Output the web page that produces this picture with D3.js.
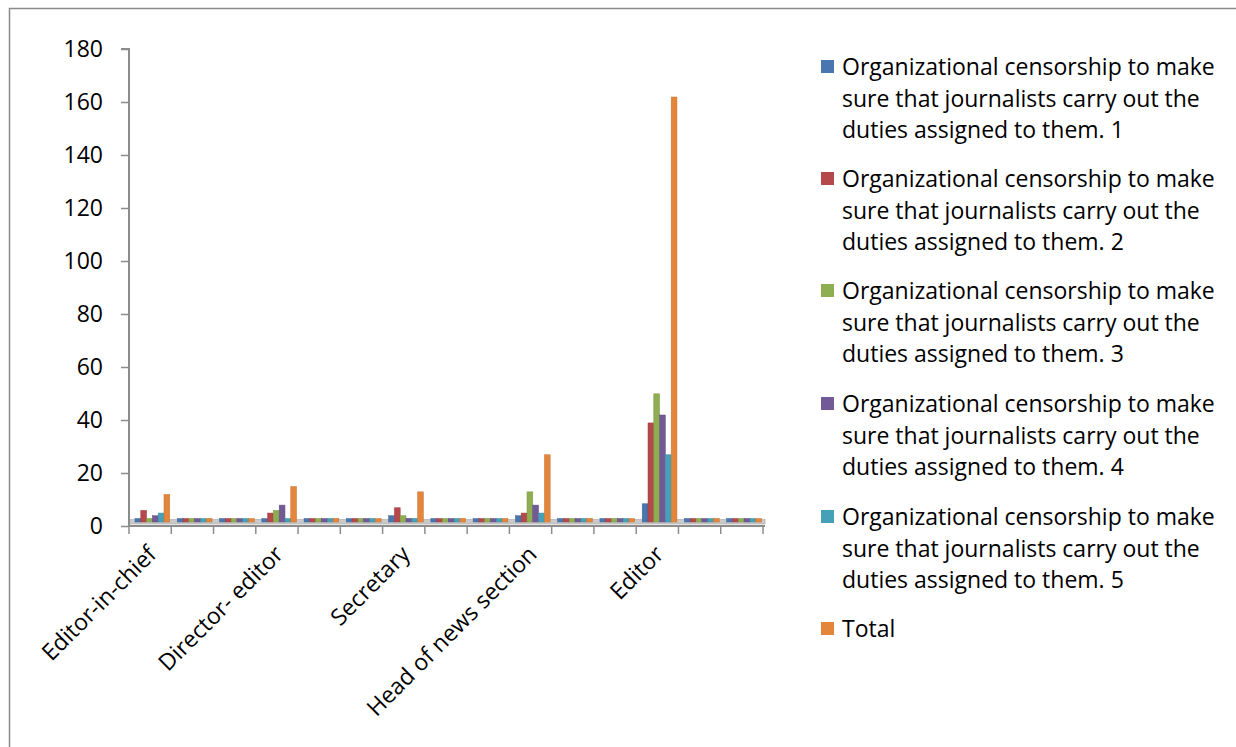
<!DOCTYPE html>
<html>
<head>
<meta charset="utf-8">
<script src="https://cdn.jsdelivr.net/npm/d3@7"></script>
<style>
  html, body { margin: 0; padding: 0; background: #fff; }
  svg { display: block; }
  text { font-family: "Open Sans", "Liberation Sans", sans-serif; fill: #000; }
</style>
</head>
<body>
<svg id="chart" width="1236" height="747"></svg>
<script>
// ---- data ----
const categories = ["Editor-in-chief", "", "", "Director- editor", "", "", "Secretary", "", "", "Head of news section", "", "", "Editor", "", ""];
const seriesNames = [
  "Organizational censorship to make sure that journalists carry out the duties assigned to them. 1",
  "Organizational censorship to make sure that journalists carry out the duties assigned to them. 2",
  "Organizational censorship to make sure that journalists carry out the duties assigned to them. 3",
  "Organizational censorship to make sure that journalists carry out the duties assigned to them. 4",
  "Organizational censorship to make sure that journalists carry out the duties assigned to them. 5",
  "Total"
];
const series1 = [0, 0, 0, 0, 0, 0, 2, 0, 0, 2, 0, 0, 6.5, 0, 0];
const series2 = [4, 0, 0, 3, 0, 0, 5, 0, 0, 3, 0, 0, 37, 0, 0];
const series3 = [1, 0, 0, 4, 0, 0, 2, 0, 0, 11, 0, 0, 48, 0, 0];
const series4 = [2, 0, 0, 6, 0, 0, 1, 0, 0, 6, 0, 0, 40, 0, 0];
const series5 = [3, 0, 0, 0, 0, 0, 1, 0, 0, 3, 0, 0, 25, 0, 0];
const total   = [10, 1, 0, 13, 1, 0, 11, 1, 0, 25, 1, 0, 160, 1, 0];
const yTicks = [0, 20, 40, 60, 80, 100, 120, 140, 160, 180];
const colors = ["#4a76b0", "#b5484a", "#8fae52", "#725a96", "#45a0b8", "#e3863c"];

const allSeries = [series1, series2, series3, series4, series5, total];
const legendLines = [
  ["Organizational censorship to make", "sure that journalists carry out the", "duties assigned to them. 1"],
  ["Organizational censorship to make", "sure that journalists carry out the", "duties assigned to them. 2"],
  ["Organizational censorship to make", "sure that journalists carry out the", "duties assigned to them. 3"],
  ["Organizational censorship to make", "sure that journalists carry out the", "duties assigned to them. 4"],
  ["Organizational censorship to make", "sure that journalists carry out the", "duties assigned to them. 5"],
  ["Total"]
];

// ---- layout ----
const svg = d3.select("#chart");
const plot = { left: 129, right: 763, top: 49, bottom: 526 };
const lift = 5; // 3D floor lift
const fontSize = "23px";

// outer border
svg.append("rect").attr("x", 9.5).attr("y", 8.5).attr("width", 1240).attr("height", 760)
  .attr("fill", "none").attr("stroke", "#8a8a8a").attr("stroke-width", 1.5);

const x = d3.scaleBand().domain(d3.range(categories.length)).range([plot.left, plot.right]).paddingInner(0).paddingOuter(0);
const y = d3.scaleLinear().domain([0, 180]).range([plot.bottom, plot.top]);
const xs = d3.scaleBand().domain(d3.range(allSeries.length)).range([6, x.bandwidth() - 1.5]).padding(0);

const floorY = y(0) - lift;

// floor band
svg.append("rect").attr("x", plot.left).attr("y", floorY - 1.5).attr("width", plot.right - plot.left + 2).attr("height", 4.5)
  .attr("fill", "#c9c9c9").attr("stroke", "#a8a8a8").attr("stroke-width", 0.6);

// bars
allSeries.forEach((vals, si) => {
  svg.append("g").selectAll("rect").data(vals).join("rect")
    .attr("x", (d, i) => x(i) + xs(si))
    .attr("width", xs.bandwidth())
    .attr("y", d => Math.min(y(d) - lift, floorY - 2.5))
    .attr("height", d => floorY + 1 - Math.min(y(d) - lift, floorY - 2.5))
    .attr("fill", colors[si])
    .attr("stroke", d3.color(colors[si]).darker(0.4))
    .attr("stroke-width", 0.5);
});

// y axis
const yAxis = d3.axisLeft(y).tickValues(yTicks).tickSize(8).tickPadding(18).tickFormat(d3.format("d"));
const gy = svg.append("g").attr("transform", `translate(${plot.left},0)`).call(yAxis);
gy.select(".domain").attr("stroke", "#8c8c8c").attr("stroke-width", 2).attr("d", `M-8,${plot.top}H0V${plot.bottom}`);
gy.selectAll(".tick line").attr("stroke", "#8c8c8c").attr("stroke-width", 1.5);
gy.selectAll(".tick text").style("font-size", fontSize).style("font-family", "'Open Sans', sans-serif").attr("fill", "#000");

// x axis
const xAxis = d3.axisBottom(x).tickSize(0).tickFormat(i => categories[i]);
const gx = svg.append("g").attr("transform", `translate(0,${plot.bottom})`).call(xAxis);
gx.select(".domain").attr("stroke", "#8c8c8c").attr("stroke-width", 2).attr("d", `M${plot.left},0H${plot.right + 2}`);
gx.selectAll(".tick text")
  .style("font-size", fontSize).style("font-family", "'Open Sans', sans-serif").attr("fill", "#000")
  .attr("text-anchor", "end").attr("dy", "0.35em")
  .attr("transform", "translate(2,24) rotate(-45)")
  .attr("x", 0).attr("y", 0);
// category boundary ticks
const bounds = d3.range(categories.length + 1).map(i => plot.left + i * x.bandwidth());
svg.append("g").selectAll("line").data(bounds).join("line")
  .attr("x1", d => d).attr("x2", d => d).attr("y1", plot.bottom).attr("y2", plot.bottom + 8)
  .attr("stroke", "#8c8c8c").attr("stroke-width", 1.5);

// legend
const lg = svg.append("g").attr("transform", "translate(821,0)");
const entryY = [67, 179, 291, 404, 517, 629];
legendLines.forEach((lines, i) => {
  lg.append("rect").attr("x", 0).attr("y", entryY[i] - 7).attr("width", 13).attr("height", 13).attr("fill", colors[i]);
  lines.forEach((ln, j) => {
    lg.append("text").attr("x", 21).attr("y", entryY[i] + j * 31.5).attr("dy", "0.35em")
      .style("font-size", fontSize).text(ln);
  });
});
</script>
</body>
</html>
